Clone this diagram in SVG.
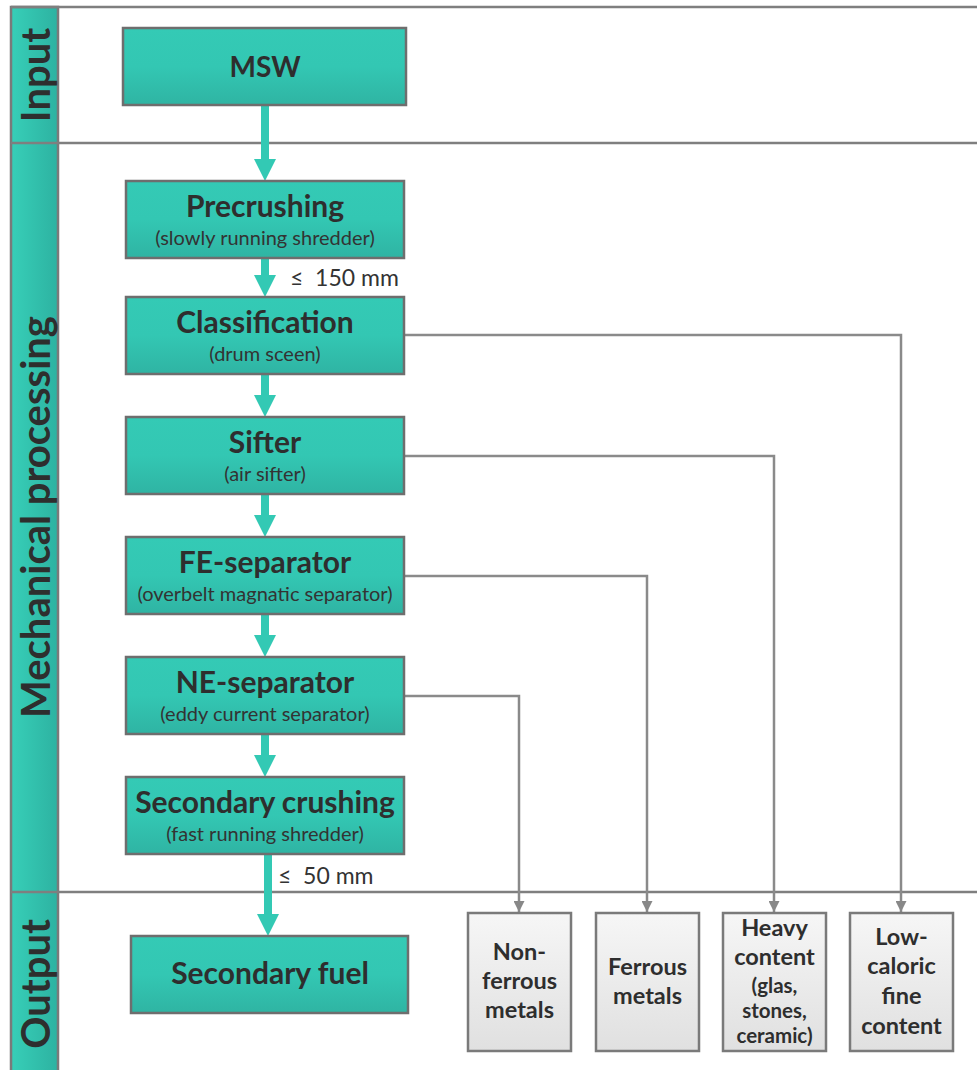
<svg xmlns="http://www.w3.org/2000/svg" width="977" height="1070" viewBox="0 0 977 1070">
<defs>
<linearGradient id="tealV" x1="0" y1="0" x2="0" y2="1"><stop offset="0" stop-color="#34cab5"/><stop offset="0.5" stop-color="#33c7b3"/><stop offset="1" stop-color="#2fb4a3"/></linearGradient>
<linearGradient id="tealH" x1="0" y1="0" x2="1" y2="0"><stop offset="0" stop-color="#37cfb8"/><stop offset="1" stop-color="#2db2a1"/></linearGradient>
<linearGradient id="grayV" x1="0" y1="0" x2="0" y2="1"><stop offset="0" stop-color="#f6f6f6"/><stop offset="1" stop-color="#e0e0e0"/></linearGradient>
<marker id="gh" markerWidth="11" markerHeight="11" refX="11" refY="5.5" orient="auto" markerUnits="userSpaceOnUse" viewBox="0 0 11 11"><path d="M0,0 L11,5.5 L0,11 Z" fill="#888"/></marker>
</defs>
<style>
.box{fill:url(#tealV);stroke:#6e6e6e;stroke-width:2.5}
.gbox{fill:url(#grayV);stroke:#7a7a7a;stroke-width:2.5}
.band{fill:url(#tealH);stroke:#7a7a7a;stroke-width:2.5}
.frame{stroke:#7f7f7f;stroke-width:2.5;fill:none}
.t{font-family:Lato,"Open Sans",sans-serif;font-weight:bold;font-size:30px;fill:#2e2e2e;text-anchor:middle}
.s{font-family:Lato,"Open Sans",sans-serif;font-size:20px;fill:#333;text-anchor:middle}
.o{font-family:Lato,"Open Sans",sans-serif;font-weight:bold;font-size:23.5px;fill:#2e2e2e;text-anchor:middle}
.os{font-family:Lato,"Open Sans",sans-serif;font-weight:bold;font-size:20.5px;fill:#2e2e2e;text-anchor:middle}
.lane{font-family:Lato,"Open Sans",sans-serif;font-weight:bold;font-size:40px;fill:#2e2e2e;text-anchor:middle}
.mm{font-family:Lato,"Open Sans",sans-serif;font-size:23px;fill:#333}
.gc{stroke:#8a8a8a;stroke-width:2.5;fill:none}
.ts{stroke:#33c9b4;stroke-width:8;fill:none}
.th{fill:#33c9b4}
</style>
<rect width="977" height="1070" fill="#fff"/>
<g id="lanes">
<rect class="band" x="11" y="7" width="47" height="1070"/>
<line class="frame" x1="11" y1="7" x2="977" y2="7"/>
<line class="frame" x1="11" y1="143" x2="977" y2="143"/>
<line class="frame" x1="11" y1="892" x2="977" y2="892"/>
<text class="lane" transform="translate(50,75) rotate(-90)">Input</text>
<text class="lane" transform="translate(50,517) rotate(-90)">Mechanical processing</text>
<text class="lane" transform="translate(50,984) rotate(-90)">Output</text>
</g>
<g id="connectors">
<path class="ts" d="M265,105 V160"/><polygon class="th" points="254,159 276,159 265,181"/>
<path class="ts" d="M265,258 V276"/><polygon class="th" points="254,275 276,275 265,297"/>
<path class="ts" d="M265,374 V396"/><polygon class="th" points="254,395 276,395 265,417"/>
<path class="ts" d="M265,494 V516"/><polygon class="th" points="254,515 276,515 265,537"/>
<path class="ts" d="M265,614 V636"/><polygon class="th" points="254,635 276,635 265,657"/>
<path class="ts" d="M265,734 V756"/><polygon class="th" points="254,755 276,755 265,777"/>
<path class="ts" d="M268,854 V915"/><polygon class="th" points="257,914 279,914 268,936"/>
<path class="gc" d="M404,335 H901 V912" marker-end="url(#gh)"/>
<path class="gc" d="M404,456 H774 V912" marker-end="url(#gh)"/>
<path class="gc" d="M404,576 H647 V912" marker-end="url(#gh)"/>
<path class="gc" d="M404,696 H519 V912" marker-end="url(#gh)"/>
<text class="mm" x="290" y="286">≤&#160; 150 mm</text>
<text class="mm" x="278" y="884">≤&#160; 50 mm</text>
</g>
<g id="msw"><rect class="box" x="123" y="28" width="283" height="77"/><text class="t" x="265" y="77" style="font-size:28px">MSW</text></g>
<g id="precrushing"><rect class="box" x="126" y="181" width="278" height="77"/><text class="t" x="265" y="217">Precrushing</text><text class="s" x="265" y="245">(slowly running shredder)</text></g>
<g id="classification"><rect class="box" x="126" y="297" width="278" height="77"/><text class="t" x="265" y="333">Classification</text><text class="s" x="265" y="361">(drum sceen)</text></g>
<g id="sifter"><rect class="box" x="126" y="417" width="278" height="77"/><text class="t" x="265" y="453">Sifter</text><text class="s" x="265" y="481">(air sifter)</text></g>
<g id="fe-separator"><rect class="box" x="126" y="537" width="278" height="77"/><text class="t" x="265" y="573">FE-separator</text><text class="s" x="265" y="601">(overbelt magnatic separator)</text></g>
<g id="ne-separator"><rect class="box" x="126" y="657" width="278" height="77"/><text class="t" x="265" y="693">NE-separator</text><text class="s" x="265" y="721">(eddy current separator)</text></g>
<g id="secondary-crushing"><rect class="box" x="126" y="777" width="278" height="77"/><text class="t" x="265" y="813">Secondary crushing</text><text class="s" x="265" y="841">(fast running shredder)</text></g>
<g id="secondary-fuel"><rect class="box" x="131" y="936" width="277" height="77"/><text class="t" x="270" y="984">Secondary fuel</text></g>
<g id="non-ferrous"><rect class="gbox" x="468" y="913" width="103" height="138"/><text class="o"><tspan x="519.5" y="960">Non-</tspan><tspan x="519.5" y="989">ferrous</tspan><tspan x="519.5" y="1018">metals</tspan></text></g>
<g id="ferrous"><rect class="gbox" x="596" y="913" width="103" height="138"/><text class="o"><tspan x="647.5" y="975">Ferrous</tspan><tspan x="647.5" y="1004">metals</tspan></text></g>
<g id="heavy"><rect class="gbox" x="723" y="913" width="103" height="138"/><text class="o"><tspan x="774.5" y="936">Heavy</tspan><tspan x="774.5" y="965">content</tspan></text><text class="os"><tspan x="774.5" y="993">(glas,</tspan><tspan x="774.5" y="1018">stones,</tspan><tspan x="774.5" y="1043">ceramic)</tspan></text></g>
<g id="low-caloric"><rect class="gbox" x="850" y="913" width="103" height="138"/><text class="o"><tspan x="901.5" y="945">Low-</tspan><tspan x="901.5" y="974">caloric</tspan><tspan x="901.5" y="1004">fine</tspan><tspan x="901.5" y="1034">content</tspan></text></g>
</svg>
